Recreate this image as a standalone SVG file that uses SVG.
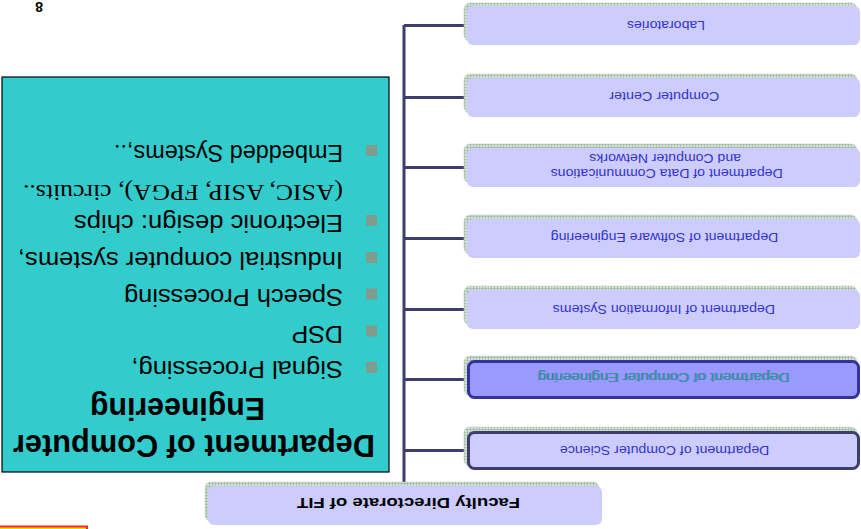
<svg xmlns="http://www.w3.org/2000/svg" width="861" height="529" viewBox="0 0 861 529">
  <defs>
    <!-- fine green grid used for the offset shadow of each box -->
    <pattern id="grid" width="3" height="3" patternUnits="userSpaceOnUse">
      <rect width="3" height="3" fill="#d4e2d6"/>
      <path d="M0 0.5H3M0.5 0V3" stroke="#9bb9a5" stroke-width="0.7"/>
    </pattern>
    <style>
      .shadow { fill: url(#grid); stroke: #bfd0c3; stroke-width: 0.6; }
      .box { fill: #ccccff; }
      .lbl { font-family: "Liberation Sans", Arial, sans-serif; font-size: 13px; fill: #3333cc; }
      .wire { stroke: #3f3d6b; stroke-width: 3; fill: none; }
      .item { font-family: "Liberation Sans", Arial, sans-serif; font-size: 23px; fill: #000; }
      .serif { font-family: "Liberation Serif", "Times New Roman", serif; font-size: 23px; fill: #000; }
      .mark { fill: #7f9c8c; }
    </style>
  </defs>

  <g transform="rotate(180 430.5 264.5)">
    <!-- partly visible red/yellow frame at the top right -->
    <rect x="774" y="-30" width="90" height="32.5" fill="#ffdd00" stroke="#ff2222" stroke-width="2"/>

    <!-- page number -->
    <text x="818" y="527" font-family="'Liberation Sans', Arial, sans-serif" font-size="14" font-weight="bold" fill="#000">8</text>

    <!-- connectors -->
    <g id="connectors">
      <path class="wire" d="M457 46V504"/>
      <path class="wire" d="M457 503.5H396M457 431.5H396M457 361.5H396M457 290.5H396M457 219.5H396M457 149.5H396M457 78.5H396"/>
    </g>

    <!-- root -->
    <g id="faculty">
      <rect class="shadow" x="262" y="8" width="394" height="39" rx="6"/>
      <rect class="box" x="259" y="4" width="394" height="39" rx="6"/>
      <text x="341" y="30.7" font-family="'Liberation Sans', Arial, sans-serif" font-size="15.5" font-weight="bold" fill="#000" textLength="223" lengthAdjust="spacingAndGlyphs">Faculty Directorate of FIT</text>
    </g>

    <g id="cs">
      <rect class="shadow" x="4" y="63" width="393" height="39" rx="6"/>
      <rect x="2.5" y="60.5" width="390" height="36" rx="6" fill="#ccccff" stroke="#3f3d6b" stroke-width="3"/>
      <text class="lbl" x="91.7" y="83" textLength="209.3" lengthAdjust="spacingAndGlyphs">Department of Computer Science</text>
    </g>

    <g id="ce">
      <rect class="shadow" x="4" y="134" width="393" height="39" rx="6"/>
      <rect x="2.5" y="131.5" width="390" height="36" rx="6" fill="#9999ff" stroke="#333399" stroke-width="3"/>
      <text class="lbl" x="71.8" y="156.5" style="fill:#333399;opacity:0.6" textLength="251.7" lengthAdjust="spacingAndGlyphs">Department of Computer Engineering</text>
      <text class="lbl" x="71" y="155.7" style="fill:#2f9e96" textLength="251.7" lengthAdjust="spacingAndGlyphs">Department of Computer Engineering</text>
    </g>

    <g id="is">
      <rect class="shadow" x="4" y="204" width="393" height="39" rx="6"/>
      <rect class="box" x="1" y="200" width="393" height="39" rx="6"/>
      <text class="lbl" x="86" y="224" textLength="222.3" lengthAdjust="spacingAndGlyphs">Department of Information Systems</text>
    </g>

    <g id="se">
      <rect class="shadow" x="4" y="275" width="393" height="39" rx="6"/>
      <rect class="box" x="1" y="271" width="393" height="39" rx="6"/>
      <text class="lbl" x="82.7" y="295.7" textLength="227.6" lengthAdjust="spacingAndGlyphs">Department of Software Engineering</text>
    </g>

    <g id="dc">
      <rect class="shadow" x="4" y="346" width="393" height="39" rx="6"/>
      <rect class="box" x="1" y="342" width="393" height="39" rx="6"/>
      <text class="lbl" x="78.3" y="359.7" textLength="232" lengthAdjust="spacingAndGlyphs">Department of Data Communications</text>
      <text class="lbl" x="120" y="375" textLength="151.7" lengthAdjust="spacingAndGlyphs">and Computer Networks</text>
    </g>

    <g id="cc">
      <rect class="shadow" x="4" y="416" width="393" height="39" rx="6"/>
      <rect class="box" x="1" y="412" width="393" height="39" rx="6"/>
      <text class="lbl" x="141.7" y="437.3" textLength="110" lengthAdjust="spacingAndGlyphs">Computer Center</text>
    </g>

    <g id="labs">
      <rect class="shadow" x="4" y="488" width="393" height="38" rx="6"/>
      <rect class="box" x="1" y="484" width="393" height="39" rx="6"/>
      <text class="lbl" x="156" y="508.3" textLength="78" lengthAdjust="spacingAndGlyphs">Laboratories</text>
    </g>

    <!-- description panel -->
    <g id="panel">
      <rect x="472" y="57" width="387" height="395" fill="#33cccc" stroke="#000" stroke-width="1.2"/>
      <text x="486" y="94" font-family="'Liberation Sans', Arial, sans-serif" font-size="31" font-weight="bold" fill="#000" textLength="362" lengthAdjust="spacingAndGlyphs">Department of Computer</text>
      <text x="596" y="130.7" font-family="'Liberation Sans', Arial, sans-serif" font-size="31" font-weight="bold" fill="#000" textLength="175" lengthAdjust="spacingAndGlyphs">Engineering</text>

      <rect class="mark" x="484" y="156" width="11" height="11"/>
      <text class="item" x="518" y="168" textLength="211.6" lengthAdjust="spacingAndGlyphs">Signal Processing,</text>
      <rect class="mark" x="484" y="192.5" width="11" height="11"/>
      <text class="item" x="518" y="203" textLength="51.6" lengthAdjust="spacingAndGlyphs">DSP</text>
      <rect class="mark" x="484" y="229.5" width="11" height="11"/>
      <text class="item" x="518" y="240.5" textLength="219" lengthAdjust="spacingAndGlyphs">Speech Processing</text>
      <rect class="mark" x="484" y="266" width="11" height="11"/>
      <text class="item" x="518" y="277" textLength="325" lengthAdjust="spacingAndGlyphs">Industrial computer systems,</text>
      <rect class="mark" x="484" y="303" width="11" height="11"/>
      <text class="item" x="518" y="314" textLength="269" lengthAdjust="spacingAndGlyphs">Electronic design: chips</text>
      <text class="serif" x="518" y="344" textLength="320" lengthAdjust="spacingAndGlyphs">(ASIC, ASIP, FPGA), circuits..</text>
      <rect class="mark" x="484" y="373" width="11" height="11"/>
      <text class="item" x="518" y="384" textLength="229" lengthAdjust="spacingAndGlyphs">Embedded Systems,..</text>
    </g>
  </g>
</svg>
